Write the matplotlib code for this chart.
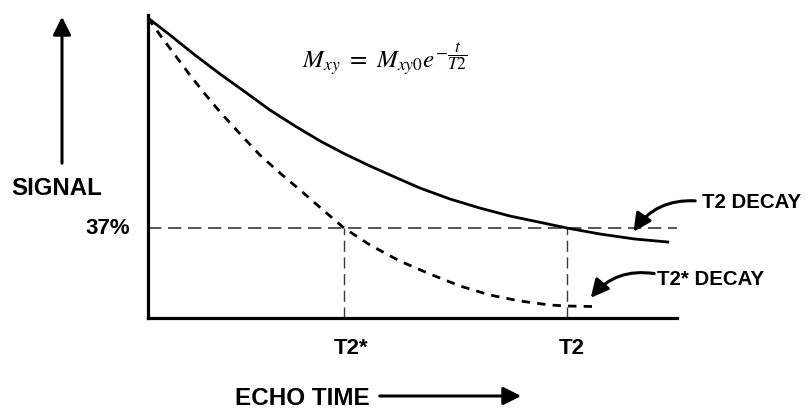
import matplotlib
matplotlib.use("Agg")
import matplotlib.pyplot as plt
from matplotlib.patches import FancyArrowPatch

# ---- data ----
# echo time in arbitrary units (T2 = 100), signal in percent
t_t2 = [0, 5.25, 11.2, 17.2, 23.2, 29.1, 35.1, 41.1, 47.0, 53.0, 58.9, 64.9,
        72.1, 79.2, 86.4, 93.6, 100, 107.9, 116.2, 124.1]
s_t2 = [100, 94.9, 88.9, 83.2, 77.8, 72.4, 67.6, 63.1, 59.2, 55.6, 52.3, 49.0,
        45.7, 43.0, 40.6, 38.7, 37.0, 35.2, 33.7, 32.8]

t_t2s = [0, 2.86, 6.44, 10.0, 13.6, 17.2, 22.0, 26.7, 31.5, 36.3, 41.5, 46.8,
         53.0, 60.1, 67.3, 74.5, 81.6, 88.8, 95.9, 100, 106]
s_t2s = [100, 94.9, 88.9, 82.9, 77.2, 71.8, 65.2, 58.9, 53.5, 48.4, 42.7, 37.0,
         31.9, 27.1, 23.2, 19.6, 16.9, 15.1, 13.9, 13.6, 13.45]

level_pct = 37
T2STAR = 46.8
T2 = 100
tick_labels = ["T2*", "T2"]
level_label = "37%"

W, H = 808, 409
plt.rcParams['font.family'] = ['Liberation Sans', 'DejaVu Sans']
plt.rcParams['mathtext.fontset'] = 'stix'

fig = plt.figure(figsize=(W / 100, H / 100), dpi=100)
fig.patch.set_facecolor('white')

def fx(px):
    return px / W

def fy(py):
    return 1 - py / H

ax = fig.add_axes([fx(148), fy(318), (677 - 148) / W, (318 - 15) / H])
ax.set_xlim(0, 126.3)
ax.set_ylim(10, 100.9)
for sp in ['top', 'right']:
    ax.spines[sp].set_visible(False)
for sp in ['left', 'bottom']:
    ax.spines[sp].set_linewidth(2.3)
    ax.spines[sp].set_color('black')
    ax.spines[sp].set_capstyle('projecting')
ax.set_xticks([])
ax.set_yticks([])
ax.patch.set_alpha(0)

# reference lines
ax.axhline(level_pct, color='#3a3a3a', lw=1.2, dashes=(8, 4), zorder=1)
for tv in (T2STAR, T2):
    ax.plot([tv, tv], [10, level_pct], color='#3a3a3a', lw=1.0, dashes=(8, 4), zorder=1)

# curves
ax.plot(t_t2, s_t2, color='black', lw=2.0, solid_joinstyle='round', zorder=3)
ax.plot(t_t2s, s_t2s, color='black', lw=2.0, dashes=(3, 2.6), zorder=3)

# tick-like labels
ax.text(T2STAR + 1.6, 4.0, tick_labels[0], fontsize=16, fontweight='bold', ha='center', va='top')
ax.text(T2 + 1.2, 4.0, tick_labels[1], fontsize=16, fontweight='bold', ha='center', va='top')
ax.text(-4.3, level_pct, level_label, fontsize=16, fontweight='bold', ha='right', va='center')

arrow_kw = dict(transform=fig.transFigure,
                arrowstyle='-|>,head_length=0.9,head_width=0.45',
                mutation_scale=12, lw=2.2, color='black')

# left axis label + arrow
fig.text(fx(57), fy(195), "SIGNAL", fontsize=17.3, fontweight='bold', ha='center', va='baseline')
fig.patches.append(FancyArrowPatch((fx(62), fy(166)), (fx(62), fy(14)), **arrow_kw))

# bottom axis label + arrow
fig.text(fx(235), fy(405), "ECHO TIME", fontsize=17.5, fontweight='bold', ha='left', va='baseline')
fig.patches.append(FancyArrowPatch((fx(377), fy(396)), (fx(524), fy(396)), **arrow_kw))

# equation
fig.text(fx(302), fy(69), r'$M_{xy}\ =\ M_{xy0}e^{-\dfrac{t}{T2}}$', fontsize=18,
         ha='left', va='baseline')

# annotations with curved arrows
fig.text(fx(702), fy(208), "T2 DECAY", fontsize=14.7, fontweight='bold', ha='left', va='baseline')
fig.patches.append(FancyArrowPatch((fx(698), fy(201)), (fx(632), fy(234)),
                                   connectionstyle='arc3,rad=0.3', **arrow_kw))

fig.text(fx(657), fy(285), "T2* DECAY", fontsize=14.7, fontweight='bold', ha='left', va='baseline')
fig.patches.append(FancyArrowPatch((fx(657), fy(274)), (fx(589), fy(300)),
                                   connectionstyle='arc3,rad=0.3', **arrow_kw))

fig.savefig("out.png", dpi=100, facecolor='white')
